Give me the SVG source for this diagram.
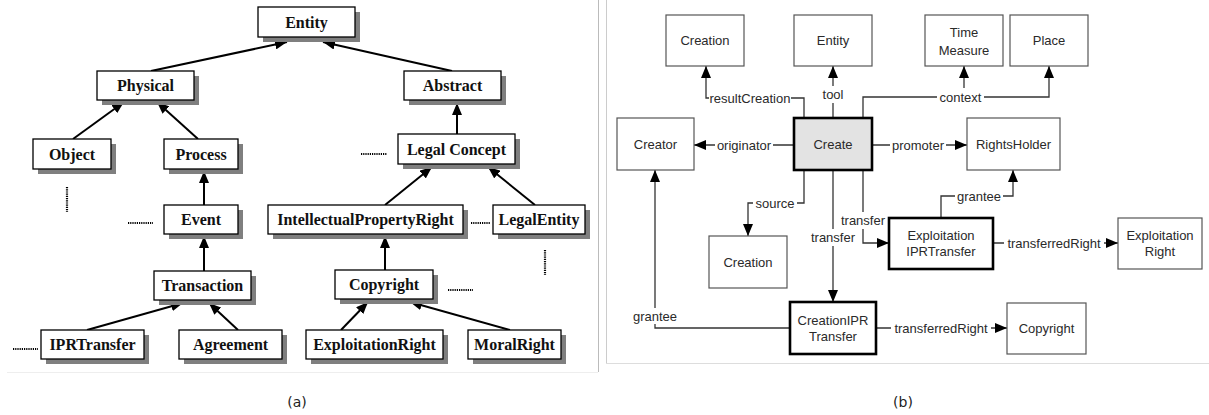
<svg xmlns="http://www.w3.org/2000/svg" width="1209" height="415" viewBox="0 0 1209 415">
<style>
.sh{fill:#7f7f7f}
.bx{fill:#fff;stroke:#000;stroke-width:1.3}
.tl{font-family:"Liberation Serif",serif;font-weight:bold;font-size:16px;fill:#111;text-anchor:middle}
.al{stroke:#000;stroke-width:2;fill:none}
.dot{stroke:#000;stroke-width:2.2;stroke-dasharray:1.2,1;fill:none}
.rb{fill:#fff;stroke:#555;stroke-width:1.2}
.rk{fill:#fff;stroke:#000;stroke-width:2.6}
.rt{font-family:"Liberation Sans",Arial,sans-serif;font-size:13px;fill:#2a2a2a;text-anchor:middle}
.rl{stroke:#333;stroke-width:1.3;fill:none}
.lbg{fill:#fff}
.cap{font-family:"DejaVu Sans",sans-serif;font-size:14px;fill:#222;text-anchor:middle}
</style>
<defs>
<marker id="ta" viewBox="0 0 12 10" refX="12" refY="5" markerWidth="12" markerHeight="10" markerUnits="userSpaceOnUse" orient="auto"><path d="M0,0 L12,5 L0,10 z" fill="#000"/></marker>
<marker id="tb" viewBox="0 0 12 10" refX="12" refY="5" markerWidth="12" markerHeight="10" markerUnits="userSpaceOnUse" orient="auto"><path d="M0,0 L12,5 L0,10 z" fill="#000"/></marker>
</defs>
<rect width="1209" height="415" fill="#fff"/>
<!-- panel frames -->
<g id="frames">
<line x1="598.5" y1="0" x2="598.5" y2="372" stroke="#bbb" stroke-width="1"/>
<line x1="7" y1="372.5" x2="598" y2="372.5" stroke="#eee" stroke-width="1"/>
<line x1="606.5" y1="0" x2="606.5" y2="363" stroke="#ccc" stroke-width="1"/>
<line x1="606" y1="363.5" x2="1209" y2="363.5" stroke="#ddd" stroke-width="1"/>
</g>
<!-- panel (a) connectors -->
<g id="connectors-a">
<line class="al" x1="151" y1="71" x2="287" y2="42" marker-end="url(#ta)"/>
<line class="al" x1="452" y1="71" x2="323" y2="42" marker-end="url(#ta)"/>
<line class="al" x1="73" y1="139" x2="124" y2="102" marker-end="url(#ta)"/>
<line class="al" x1="198" y1="139" x2="157" y2="102" marker-end="url(#ta)"/>
<line class="al" x1="457" y1="134" x2="457" y2="103" marker-end="url(#ta)"/>
<line class="al" x1="204" y1="205" x2="204" y2="171" marker-end="url(#ta)"/>
<line class="al" x1="204" y1="271" x2="204" y2="236" marker-end="url(#ta)"/>
<line class="al" x1="385" y1="205" x2="432" y2="167" marker-end="url(#ta)"/>
<line class="al" x1="535" y1="205" x2="488" y2="167" marker-end="url(#ta)"/>
<line class="al" x1="385" y1="270" x2="385" y2="236" marker-end="url(#ta)"/>
<line class="al" x1="87" y1="330" x2="183" y2="303" marker-end="url(#ta)"/>
<line class="al" x1="238" y1="330" x2="209" y2="303" marker-end="url(#ta)"/>
<line class="al" x1="341" y1="330" x2="368" y2="302" marker-end="url(#ta)"/>
<line class="al" x1="510" y1="330" x2="410" y2="302" marker-end="url(#ta)"/>
<path class="dot" d="M361,154H387 M128,223H153 M13,349H38 M471,223H490 M448,290H473 M67,187V212 M545,250V275"/>
</g>
<!-- panel (a) nodes -->
<g id="a-entity"><rect class="sh" x="263" y="12" width="97" height="30"/><rect class="bx" x="258" y="7" width="97" height="30"/><text class="tl" x="306.5" y="27.5">Entity</text></g>
<g id="a-physical"><rect class="sh" x="102" y="76" width="97" height="29"/><rect class="bx" x="97" y="71" width="97" height="29"/><text class="tl" x="145.5" y="91">Physical</text></g>
<g id="a-abstract"><rect class="sh" x="409" y="76" width="97" height="29"/><rect class="bx" x="404" y="71" width="97" height="29"/><text class="tl" x="452.5" y="91">Abstract</text></g>
<g id="a-object"><rect class="sh" x="38" y="144" width="78" height="30"/><rect class="bx" x="33" y="139" width="78" height="30"/><text class="tl" x="72" y="160">Object</text></g>
<g id="a-process"><rect class="sh" x="169" y="144" width="74" height="30"/><rect class="bx" x="164" y="139" width="74" height="30"/><text class="tl" x="201" y="160">Process</text></g>
<g id="a-legalconcept"><rect class="sh" x="403" y="139" width="117" height="30"/><rect class="bx" x="398" y="134" width="117" height="30"/><text class="tl" x="456.5" y="155">Legal Concept</text></g>
<g id="a-event"><rect class="sh" x="169" y="210" width="74" height="29"/><rect class="bx" x="164" y="205" width="74" height="29"/><text class="tl" x="201" y="225">Event</text></g>
<g id="a-ipr"><rect class="sh" x="273" y="210" width="195" height="29"/><rect class="bx" x="268" y="205" width="195" height="29"/><text class="tl" x="365.5" y="225">IntellectualPropertyRight</text></g>
<g id="a-legalentity"><rect class="sh" x="498" y="210" width="92" height="29"/><rect class="bx" x="493" y="205" width="92" height="29"/><text class="tl" x="539" y="225">LegalEntity</text></g>
<g id="a-transaction"><rect class="sh" x="159" y="276" width="97" height="29"/><rect class="bx" x="154" y="271" width="97" height="29"/><text class="tl" x="202.5" y="291">Transaction</text></g>
<g id="a-copyright"><rect class="sh" x="340" y="275" width="98" height="29"/><rect class="bx" x="335" y="270" width="98" height="29"/><text class="tl" x="384" y="290">Copyright</text></g>
<g id="a-iprtransfer"><rect class="sh" x="46" y="335" width="103" height="29"/><rect class="bx" x="41" y="330" width="103" height="29"/><text class="tl" x="92.5" y="350">IPRTransfer</text></g>
<g id="a-agreement"><rect class="sh" x="184" y="335" width="103" height="29"/><rect class="bx" x="179" y="330" width="103" height="29"/><text class="tl" x="230.5" y="350">Agreement</text></g>
<g id="a-exploitationright"><rect class="sh" x="311" y="335" width="137" height="29"/><rect class="bx" x="306" y="330" width="137" height="29"/><text class="tl" x="374.5" y="350">ExploitationRight</text></g>
<g id="a-moralright"><rect class="sh" x="473" y="335" width="93" height="29"/><rect class="bx" x="468" y="330" width="93" height="29"/><text class="tl" x="514.5" y="350">MoralRight</text></g>
<!-- panel (b) connectors -->
<g id="connectors-b">
<polyline class="rl" points="804,118 804,98 706,98 706,66" marker-end="url(#tb)"/>
<rect class="lbg" x="709" y="89" width="82" height="18"/>
<text class="rt" x="750" y="102.5">resultCreation</text>
<line class="rl" x1="833" y1="118" x2="833" y2="66" marker-end="url(#tb)"/>
<rect class="lbg" x="820" y="86" width="26" height="17"/>
<text class="rt" x="833" y="98.5">tool</text>
<polyline class="rl" points="863,118 863,97 1049,97 1049,66" marker-end="url(#tb)"/>
<line class="rl" x1="964" y1="88" x2="964" y2="66" marker-end="url(#tb)"/>
<rect class="lbg" x="937" y="89" width="47" height="16"/>
<text class="rt" x="960.5" y="101.5">context</text>
<line class="rl" x1="872" y1="145" x2="967" y2="145" marker-end="url(#tb)"/>
<rect class="lbg" x="890" y="137" width="56" height="17"/>
<text class="rt" x="918" y="149.5">promoter</text>
<line class="rl" x1="794" y1="145" x2="694" y2="145" marker-end="url(#tb)"/>
<rect class="lbg" x="715" y="137" width="58" height="17"/>
<text class="rt" x="744" y="149.5">originator</text>
<polyline class="rl" points="804,170 804,203 748,203 748,236" marker-end="url(#tb)"/>
<rect class="lbg" x="753" y="195" width="44" height="17"/>
<text class="rt" x="775" y="207.5">source</text>
<line class="rl" x1="833" y1="170" x2="833" y2="302" marker-end="url(#tb)"/>
<rect class="lbg" x="810" y="229" width="46" height="17"/>
<text class="rt" x="833" y="241.5">transfer</text>
<polyline class="rl" points="863,170 863,243 889,243" marker-end="url(#tb)"/>
<rect class="lbg" x="840" y="212" width="46" height="17"/>
<text class="rt" x="863" y="224.5">transfer</text>
<polyline class="rl" points="790,328 655,328 655,170" marker-end="url(#tb)"/>
<rect class="lbg" x="631" y="308" width="48" height="16"/>
<text class="rt" x="655" y="321">grantee</text>
<polyline class="rl" points="941,218 941,196 1013,196 1013,170" marker-end="url(#tb)"/>
<rect class="lbg" x="955" y="188" width="48" height="17"/>
<text class="rt" x="979" y="200.5">grantee</text>
<line class="rl" x1="993" y1="243" x2="1118" y2="243" marker-end="url(#tb)"/>
<rect class="lbg" x="1004" y="235" width="100" height="17"/>
<text class="rt" x="1054" y="247.5">transferredRight</text>
<line class="rl" x1="876" y1="328" x2="1007" y2="328" marker-end="url(#tb)"/>
<rect class="lbg" x="891" y="320" width="100" height="17"/>
<text class="rt" x="941" y="332.5">transferredRight</text>
</g>
<!-- panel (b) nodes -->
<g id="b-creation-top"><rect class="rb" x="666" y="15" width="78" height="51"/><text class="rt" x="705" y="45">Creation</text></g>
<g id="b-entity"><rect class="rb" x="794" y="15" width="78" height="51"/><text class="rt" x="833" y="45">Entity</text></g>
<g id="b-timemeasure"><rect class="rb" x="925" y="15" width="78" height="51"/><text class="rt" x="964" y="37">Time</text><text class="rt" x="964" y="55">Measure</text></g>
<g id="b-place"><rect class="rb" x="1010" y="15" width="78" height="51"/><text class="rt" x="1049" y="45">Place</text></g>
<g id="b-creator"><rect class="rb" x="617" y="118" width="77" height="52"/><text class="rt" x="655.5" y="149">Creator</text></g>
<g id="b-create"><rect x="794" y="118" width="78" height="52" fill="#e3e3e3" stroke="#000" stroke-width="2.6"/><text class="rt" x="833" y="149">Create</text></g>
<g id="b-rightsholder"><rect class="rb" x="967" y="118" width="93" height="52"/><text class="rt" x="1013.5" y="149">RightsHolder</text></g>
<g id="b-creation-bottom"><rect class="rb" x="709" y="236" width="78" height="52"/><text class="rt" x="748" y="267">Creation</text></g>
<g id="b-exploitationipr"><rect class="rk" x="889" y="218" width="104" height="51"/><text class="rt" x="941" y="240">Exploitation</text><text class="rt" x="941" y="256">IPRTransfer</text></g>
<g id="b-exploitationright"><rect class="rb" x="1118" y="218" width="84" height="51"/><text class="rt" x="1160" y="240">Exploitation</text><text class="rt" x="1160" y="256">Right</text></g>
<g id="b-creationipr"><rect class="rk" x="790" y="302" width="86" height="52"/><text class="rt" x="833" y="325">CreationIPR</text><text class="rt" x="833" y="341">Transfer</text></g>
<g id="b-copyright"><rect class="rb" x="1007" y="303" width="79" height="51"/><text class="rt" x="1046.5" y="333">Copyright</text></g>
<text class="cap" x="297" y="407">(a)</text>
<text class="cap" x="903" y="407">(b)</text>
</svg>
